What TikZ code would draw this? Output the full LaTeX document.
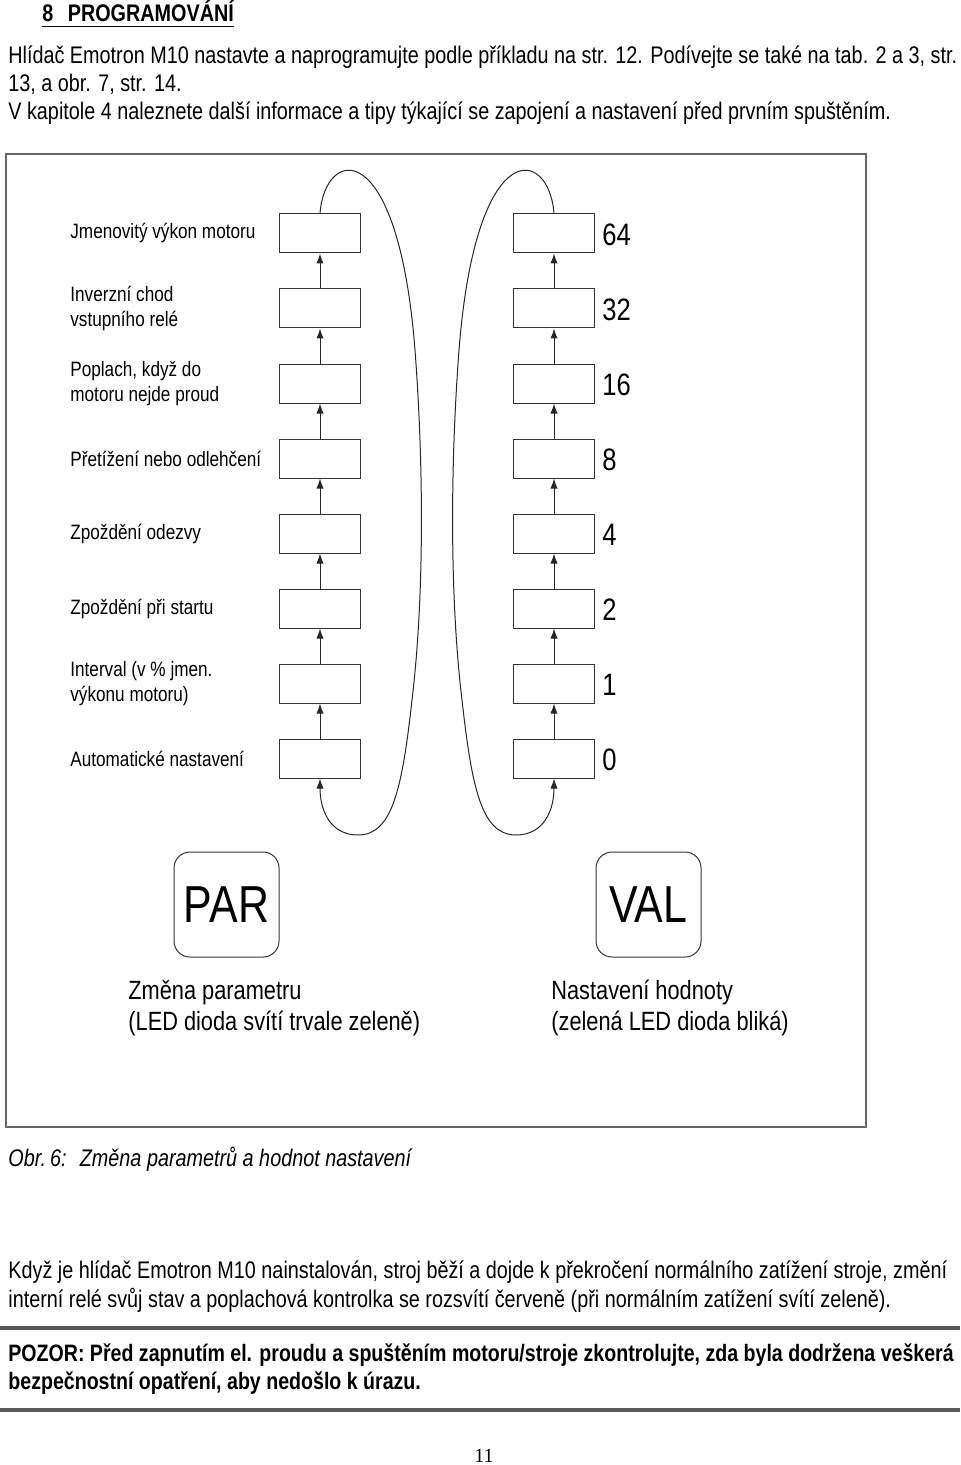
\documentclass[tikz,border=0pt]{standalone}
\usepackage{fontspec}
\setmainfont[FakeStretch=0.825]{Liberation Sans}
\newfontfamily\pagefont{Liberation Serif}
\usetikzlibrary{arrows.meta,positioning}

\begin{document}
\begin{tikzpicture}[x=0.5pt,y=0.5pt,
  box/.style={draw=black!80,line width=0.5pt,minimum width=40.5pt,minimum height=19.5pt,inner sep=0pt},
  key/.style={draw=black!80,line width=0.5pt,rounded corners=8pt,minimum width=52.5pt,minimum height=52.5pt,inner sep=0pt,font=\fontsize{26}{28}\selectfont},
  lbl/.style={anchor=west,align=left,inner sep=0pt,font=\fontsize{10.4}{12.5}\selectfont},
  num/.style={anchor=west,inner sep=0pt,font=\fontsize{15.5}{17}\selectfont},
  big/.style={anchor=north west,align=left,inner sep=0pt,font=\fontsize{13.2}{15.5}\selectfont},
  txt/.style={anchor=base west,inner sep=0pt,font=\fontsize{12}{14}\selectfont},
  warn/.style={anchor=base west,inner sep=0pt,font=\fontsize{11.87}{14}\selectfont\bfseries},
  tip/.style={-{Latex[length=5pt,width=3.6pt]},line width=0.5pt,black!85}]
\useasboundingbox (0,0) rectangle (960,-1465);

% page text above the figure
\node[txt,font=\fontsize{12}{14}\selectfont\bfseries] (head) at (42,-22) {8\hspace{0.6em}PROGRAMOVÁNÍ};
\draw[line width=0.6pt] ([yshift=-2.2pt]head.base west) -- ([yshift=-2.2pt]head.base east);
\node[txt] (p1) at (8,-64) {Hlídač Emotron M10 nastavte a naprogramujte podle příkladu na str. 12. Podívejte se také na tab. 2 a 3, str.};
\node[txt] (p2) at (8,-92) {13, a obr. 7, str. 14.};
\node[txt] (p3) at (8,-120) {V kapitole 4 naleznete další informace a tipy týkající se zapojení a nastavení před prvním spuštěním.};

% figure frame
\draw[line width=0.8pt,black!60] (6,-154) rectangle (866,-1127);

% parameter and value columns
\foreach \i/\t/\n in {1/{Jmenovitý výkon motoru}/64,
                      2/{Inverzní chod\\vstupního relé}/32,
                      3/{Poplach, když do\\motoru nejde proud}/16,
                      4/{Přetížení nebo odlehčení}/8,
                      5/{Zpoždění odezvy}/4,
                      6/{Zpoždění při startu}/2,
                      7/{Interval (v \% jmen.\\výkonu motoru)}/1,
                      8/{Automatické nastavení}/0} {
  \node[box] (L\i) at (320,{-233.5-75*(\i-1)}) {};
  \node[box] (R\i) at (554,{-233.5-75*(\i-1)}) {};
  \node[lbl] (T\i) at (70,{-233.5-75*(\i-1)}) {\t};
  \node[num] (N\i) at (602,{-234.5-75*(\i-1)}) {\n};
}
\foreach \i [count=\j from 2] in {1,...,7} {
  \draw[tip] (L\j.north) -- (L\i.south);
  \draw[tip] (R\j.north) -- (R\i.south);
}

% loops back to the bottom
\draw[tip] (L1.north) .. controls (325,-147) and (398,-133) .. (415,-350)
  .. controls (424,-470) and (424,-600) .. (412,-700)
  .. controls (402,-790) and (392,-835) .. (358,-835)
  .. controls (330,-835) and (320,-810) .. (L8.south);
\draw[tip] (R1.north) .. controls (549,-147) and (476,-133) .. (459,-350)
  .. controls (450,-470) and (450,-600) .. (462,-700)
  .. controls (472,-790) and (482,-835) .. (516,-835)
  .. controls (544,-835) and (554,-810) .. (R8.south);

% keys
\node[key] (par) at (226.5,-904.5) {PAR};
\node[key] (val) at (648.5,-904.5) {VAL};
\node[big] (parT) at (128,-980) {Změna parametru\\(LED dioda svítí trvale zeleně)};
\node[big] (valT) at (551,-980) {Nastavení hodnoty\\(zelená LED dioda bliká)};

% caption and notes
\node[txt,font=\fontsize{12}{14}\selectfont\itshape] (cap) at (8,-1166) {Obr.\,6:\hspace{0.55em}Změna parametrů a hodnot nastavení};
\node[txt] (q1) at (8,-1278) {Když je hlídač Emotron M10 nainstalován, stroj běží a dojde k překročení normálního zatížení stroje, změní};
\node[txt] (q2) at (8,-1307) {interní relé svůj stav a poplachová kontrolka se rozsvítí červeně (při normálním zatížení svítí zeleně).};
\draw[line width=1.6pt,black!65] (0,-1328) -- (960,-1328);
\node[warn] (w1) at (8,-1361) {POZOR: Před zapnutím el. proudu a spuštěním motoru/stroje zkontrolujte, zda byla dodržena veškerá};
\node[warn] (w2) at (8,-1389) {bezpečnostní opatření, aby nedošlo k úrazu.};
\draw[line width=1.6pt,black!65] (0,-1410) -- (960,-1410);
\node[txt,font=\pagefont\fontsize{10}{12}\selectfont] (pg) at (474,-1462) {11};
\end{tikzpicture}
\end{document}
